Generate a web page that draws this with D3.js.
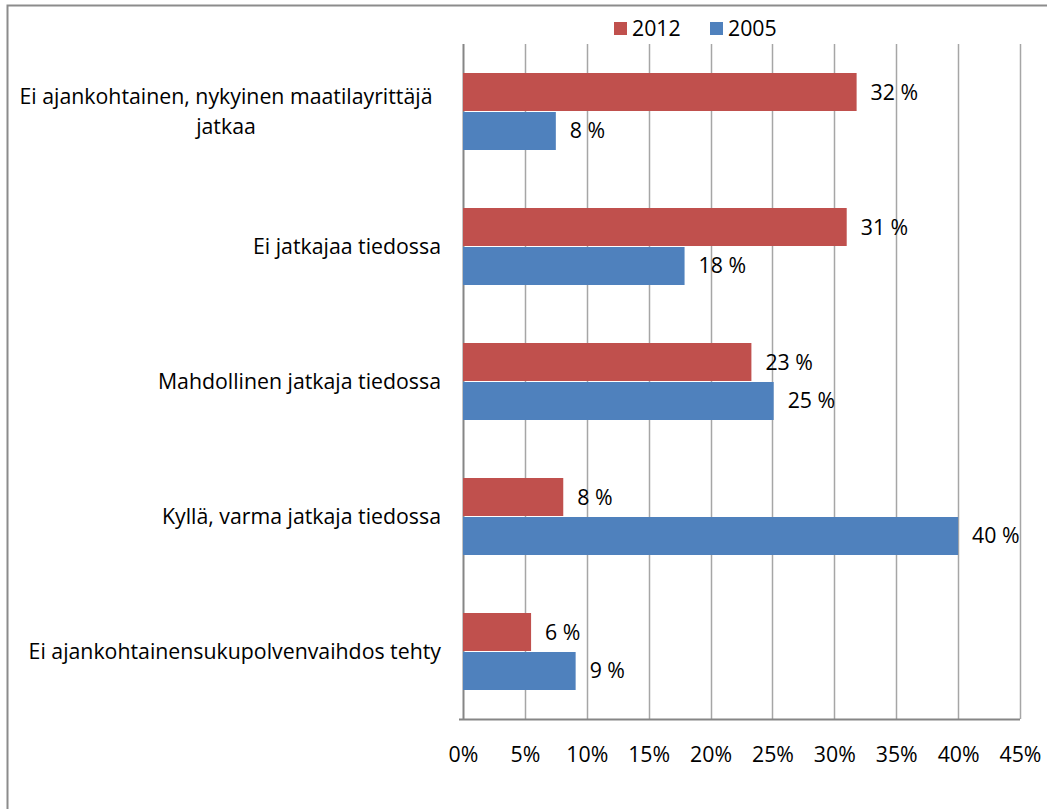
<!DOCTYPE html>
<html>
<head>
<meta charset="utf-8">
<script src="https://cdn.jsdelivr.net/npm/d3@7"></script>
<style>
  body { margin: 0; background: #fff; }
  svg { display: block; font-family: "Open Sans", sans-serif; }
</style>
</head>
<body>
<svg id="chart" width="1047" height="809"></svg>
<script>
var categories = [
  'Ei ajankohtainen, nykyinen maatilayrittäjä|jatkaa',
  'Ei jatkajaa tiedossa',
  'Mahdollinen jatkaja tiedossa',
  'Kyllä, varma jatkaja tiedossa',
  'Ei ajankohtainensukupolvenvaihdos tehty'
];
var seriesNames = ['2012', '2005'];
var values2012 = [31.8, 31.0, 23.3, 8.1, 5.5];
var values2005 = [7.5, 17.9, 25.1, 40.0, 9.1];
var xTicks = [0, 5, 10, 15, 20, 25, 30, 35, 40, 45];

var colors = { '2012': '#c0504d', '2005': '#4f81bd' };
var fontSize = 21.3;

var margin = { top: 44, left: 463, right: 27, bottom: 90 };
var width = 1047, height = 809;

var svg = d3.select('#chart');

// outer frame (chart area border)
svg.append('path')
  .attr('d', 'M7.5,' + height + ' V5.5 H' + width)
  .attr('fill', 'none')
  .attr('stroke', '#8c8c8c')
  .attr('stroke-width', 2);

var x = d3.scaleLinear().domain([0, 45]).range([margin.left, width - margin.right]);
var y = d3.scaleBand().domain(d3.range(categories.length))
  .range([margin.top, height - margin.bottom]);

var rows = categories.map(function (c, i) {
  return { name: c, v: [values2012[i], values2005[i]] };
});

// gridlines
svg.append('g').selectAll('line')
  .data(xTicks).enter().append('line')
  .attr('x1', function (d) { return Math.round(x(d)) + 0.5; })
  .attr('x2', function (d) { return Math.round(x(d)) + 0.5; })
  .attr('y1', margin.top)
  .attr('y2', height - margin.bottom)
  .attr('stroke', function (d) { return d === 0 ? '#868686' : '#a6a6a6'; })
  .attr('stroke-width', function (d) { return d === 0 ? 2 : 1.5; });

// bars
var barH = 38;
var groups = svg.append('g').selectAll('g')
  .data(rows).enter().append('g')
  .attr('transform', function (d, i) {
    return 'translate(0,' + (y(i) + y.bandwidth() / 2) + ')';
  });

groups.selectAll('rect')
  .data(function (d) { return d.v.map(function (v, k) { return { v: v, k: k }; }); })
  .enter().append('rect')
  .attr('x', x(0))
  .attr('y', function (d) { return d.k === 0 ? -barH - 0.5 : 0.5; })
  .attr('width', function (d) { return x(d.v) - x(0); })
  .attr('height', barH)
  .attr('fill', function (d) { return colors[seriesNames[d.k]]; });

groups.selectAll('text.val')
  .data(function (d) { return d.v.map(function (v, k) { return { v: v, k: k }; }); })
  .enter().append('text')
  .attr('class', 'val')
  .attr('x', function (d) { return x(d.v) + 14; })
  .attr('y', function (d) { return d.k === 0 ? -barH / 2 : barH / 2; })
  .attr('dy', '0.35em')
  .attr('font-size', fontSize)
  .attr('fill', '#000')
  .text(function (d) { return Math.round(d.v) + ' %'; });

// category labels
groups.each(function (d) {
  var lines = d.name.split('|');
  var g = d3.select(this);
  var t = g.append('text')
    .attr('font-size', fontSize)
    .attr('fill', '#000')
    .attr('text-anchor', lines.length > 1 ? 'middle' : 'end');
  if (lines.length > 1) {
    lines.forEach(function (l, j) {
      t.append('tspan')
        .attr('x', 226)
        .attr('y', (j - (lines.length - 1) / 2) * 30)
        .attr('dy', '0.35em')
        .text(l);
    });
  } else {
    t.attr('x', 441).attr('dy', '0.35em').text(lines[0]);
  }
});

// x axis
var xAxis = d3.axisBottom(x).tickValues(xTicks)
  .tickSize(0).tickPadding(28)
  .tickFormat(function (d) { return d + '%'; });
var ax = svg.append('g')
  .attr('transform', 'translate(0,' + (height - margin.bottom) + ')')
  .call(xAxis);
ax.select('.domain')
  .attr('d', 'M' + (x(0) - 4) + ',0.5H' + x(45))
  .attr('stroke', '#868686')
  .attr('stroke-width', 2);
ax.selectAll('text')
  .attr('font-size', fontSize)
  .attr('font-family', '"Open Sans", sans-serif')
  .attr('fill', '#000');

// legend
var legend = svg.append('g').attr('transform', 'translate(614,22)');
var li = legend.selectAll('g').data(seriesNames).enter().append('g')
  .attr('transform', function (d, i) { return 'translate(' + (i * 96) + ',0)'; });
li.append('rect').attr('width', 13).attr('height', 13)
  .attr('fill', function (d) { return colors[d]; });
li.append('text').attr('x', 18).attr('y', 7).attr('dy', '0.35em')
  .attr('font-size', fontSize).text(function (d) { return d; });
</script>
</body>
</html>
